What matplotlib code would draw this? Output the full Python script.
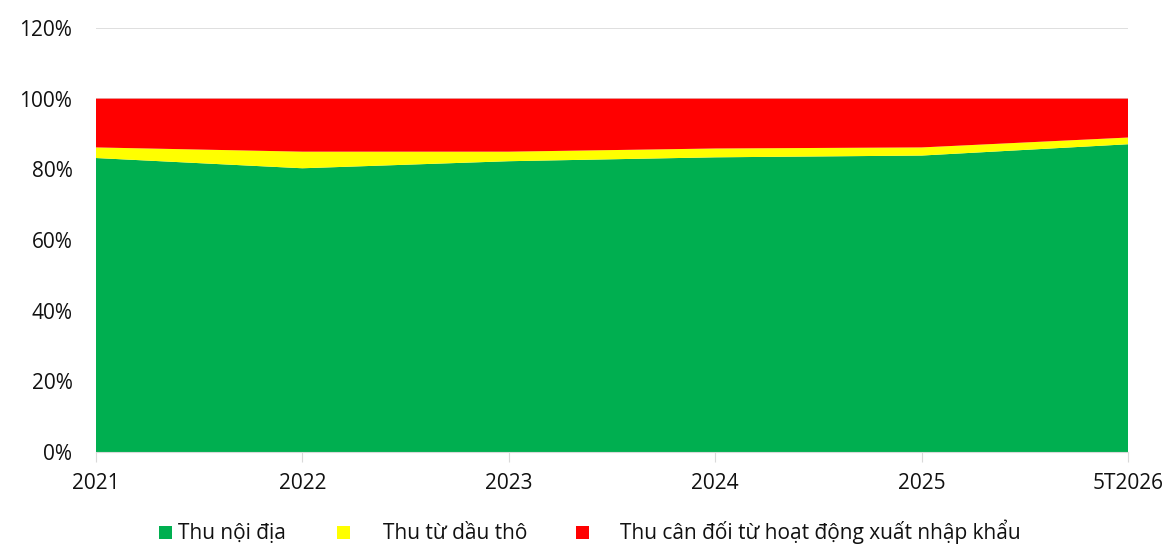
import numpy as np
import matplotlib
matplotlib.use('Agg')
import matplotlib.pyplot as plt
from matplotlib.patches import Rectangle

# Data (share of budget revenue, %)
years = ['2021', '2022', '2023', '2024', '2025', '5T2026']
noi_dia = [83.2, 80.3, 82.3, 83.4, 83.9, 87.1]
dau_tho = [3.0, 4.7, 2.7, 2.5, 2.3, 1.9]
xnk = [100 - a - b for a, b in zip(noi_dia, dau_tho)]

labels = ['Thu nội địa', 'Thu từ dầu thô', 'Thu cân đối từ hoạt động xuất nhập khẩu']
colors = ['#00AF50', '#FFFF00', '#FF0000']

plt.rcParams['font.family'] = ['Open Sans', 'DejaVu Sans']

W, H = 1168, 546
fig = plt.figure(figsize=(W / 100, H / 100), dpi=100)
ax = fig.add_axes([96 / W, 1 - 452 / H, (1128 - 96) / W, (452 - 28) / H])

x = np.arange(len(years))
ax.stackplot(x, noi_dia, dau_tho, xnk, colors=colors, linewidth=0, zorder=2)

ax.set_xlim(0, len(years) - 1)
ax.set_ylim(0, 120)
ax.set_yticks(np.arange(0, 121, 20))
ax.set_yticklabels([f'{v}%' for v in range(0, 121, 20)])
ax.set_xticks(x)
ax.set_xticklabels(years)
ax.yaxis.grid(True, color='#d9d9d9', linewidth=1.2, zorder=0)
ax.set_axisbelow(True)

for s in ['top', 'right', 'left']:
    ax.spines[s].set_visible(False)
ax.spines['bottom'].set_color('#d9d9d9')
ax.tick_params(axis='y', length=0, labelsize=15, pad=17, labelcolor='#111111')
ax.tick_params(axis='x', length=7, color='#d9d9d9', labelsize=15, pad=8, labelcolor='#111111')

# legend drawn by hand (uneven spacing as in the source)
leg_sq = [159, 337, 576]
leg_tx = [178, 383, 620]
for sx, tx, c, lab in zip(leg_sq, leg_tx, colors, labels):
    fig.add_artist(Rectangle((sx / W, 7 / H), 13 / W, 13 / H, transform=fig.transFigure,
                             facecolor=c, edgecolor='none'))
    fig.text(tx / W, 7 / H, lab, fontsize=15, va='baseline', ha='left', color='#111111')

fig.savefig('out.png', dpi=100)
